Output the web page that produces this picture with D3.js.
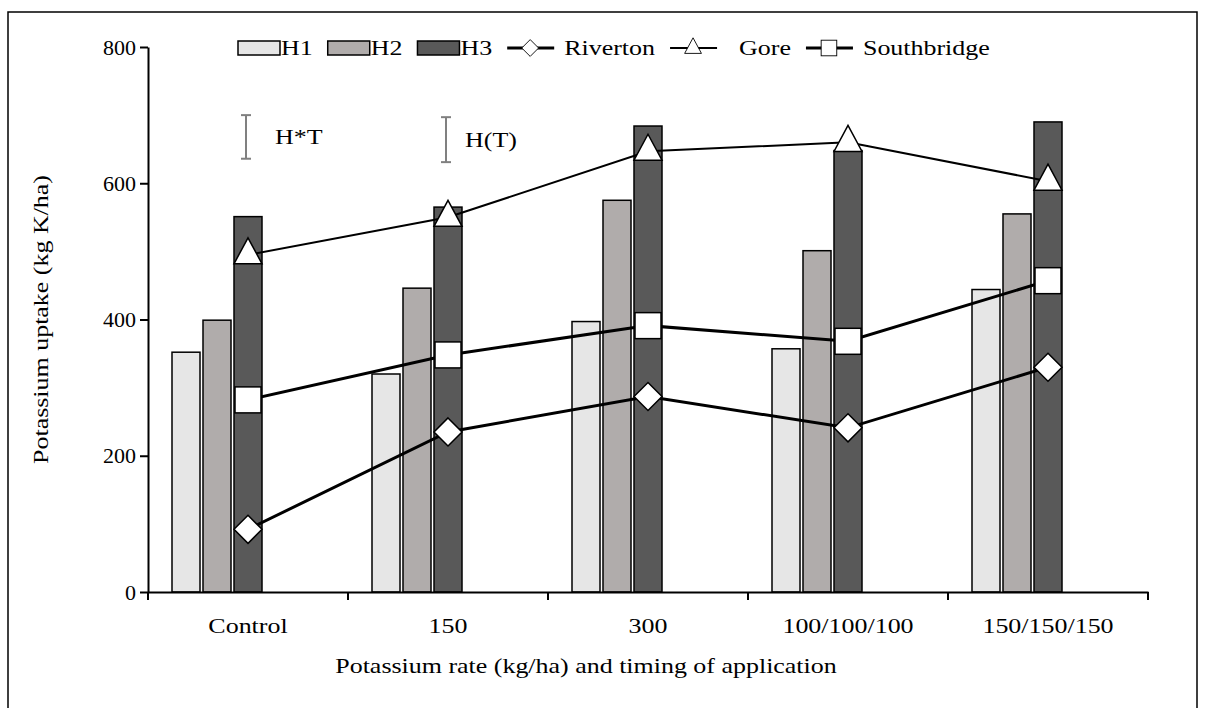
<!DOCTYPE html>
<html>
<head>
<meta charset="utf-8">
<script src="https://cdn.jsdelivr.net/npm/d3@7"></script>
<style>
  body { margin: 0; background: #fff; }
</style>
</head>
<body>
<div id="chart"></div>
<script>
// data
var categories = ["Control", "150", "300", "100/100/100", "150/150/150"];
var h1 = [352, 320, 397, 357, 444];
var h2 = [399, 446, 575, 501, 555];
var h3 = [551, 565, 684, 648, 690];
var riverton = [92, 235, 287, 241, 330];
var gore = [495, 550, 647, 660, 603];
var southbridge = [282, 348, 391, 368, 457];
var yTicks = [0, 200, 400, 600, 800];
// LSD bars: [category, low, high, label]
var lsd = [["Control", 636, 700, "H*T"], ["150", 631, 697, "H(T)"]];

var width = 1205, height = 708;
var margin = {top: 47, right: 57, bottom: 116, left: 148};
var w = width - margin.left - margin.right,
    h = height - margin.top - margin.bottom;
var fontSize = 22;
var sx = 1.18; // the original text is a bit wider than Liberation Serif
var serif = "'Liberation Serif'";

var svg = d3.select("#chart").append("svg")
    .attr("width", width)
    .attr("height", height);

// outer frame
svg.append("path")
    .attr("d", "M8,720V12H1197V720")
    .attr("fill", "none")
    .attr("stroke", "#000")
    .attr("stroke-width", 1.5);

var g = svg.append("g")
    .attr("transform", "translate(" + margin.left + "," + margin.top + ")");

var x = d3.scaleBand().domain(categories).range([0, w]);
var y = d3.scaleLinear().domain([0, 800]).range([h, 0]);

var barW = 28, barStep = 31;
var series = [
  {name: "H1", values: h1, color: "#e6e6e6", off: -2},
  {name: "H2", values: h2, color: "#b0acab", off: -1},
  {name: "H3", values: h3, color: "#595959", off: 0}
];

function cx(c) { return x(c) + x.bandwidth() / 2; }

series.forEach(function(s) {
  g.selectAll(".bar-" + s.name)
    .data(s.values).enter().append("rect")
      .attr("x", function(d, i) { return cx(categories[i]) + s.off * barStep - barW / 2; })
      .attr("width", barW)
      .attr("y", function(d) { return y(d); })
      .attr("height", function(d) { return h - y(d); })
      .attr("fill", s.color)
      .attr("stroke", "#000")
      .attr("stroke-width", 1.5);
});

// axes
var yAxis = g.append("g")
    .call(d3.axisLeft(y).tickValues(yTicks).tickSize(8).tickSizeOuter(0));
var xAxis = g.append("g")
    .attr("transform", "translate(0," + h + ")")
    .call(d3.axisBottom(x).tickSize(0).tickSizeOuter(0));

// x ticks at band edges
g.selectAll(".xedge")
  .data(categories.concat(["end"])).enter().append("line")
    .attr("x1", function(d, i) { return i * x.step(); })
    .attr("x2", function(d, i) { return i * x.step(); })
    .attr("y1", h)
    .attr("y2", h + 8)
    .attr("stroke", "#000")
    .attr("stroke-width", 2);

[yAxis, xAxis].forEach(function(a) {
  a.attr("font-family", null).attr("font-size", null);
  a.select(".domain").attr("stroke-width", 2);
  a.selectAll(".tick line").attr("stroke-width", 2);
  a.selectAll("text").attr("fill", "#000");
});
yAxis.selectAll("text").attr("x", -12).classed("plain", true);
xAxis.selectAll("text").attr("y", 0).attr("dy", 41);

// lines
var lines = [
  {name: "Riverton", values: riverton, sw: 3, shape: "diamond"},
  {name: "Gore", values: gore, sw: 2, shape: "triangle"},
  {name: "Southbridge", values: southbridge, sw: 3, shape: "square"}
];

var line = d3.line()
    .x(function(d, i) { return cx(categories[i]); })
    .y(function(d) { return y(d); });

function marker(sel, shape) {
  if (shape === "diamond") {
    sel.append("path").attr("d", "M0,-14L14,0L0,14L-14,0Z");
  } else if (shape === "triangle") {
    sel.append("path").attr("d", "M0,-17L14,9L-14,9Z");
  } else {
    sel.append("rect").attr("x", -13).attr("y", -13).attr("width", 26).attr("height", 26);
  }
  sel.selectAll("path,rect").attr("fill", "#fff").attr("stroke", "#000").attr("stroke-width", 1.5);
}

lines.forEach(function(l) {
  g.append("path")
    .datum(l.values)
    .attr("d", line)
    .attr("fill", "none")
    .attr("stroke", "#000")
    .attr("stroke-width", l.sw);
});
lines.forEach(function(l) {
  g.selectAll(".pt-" + l.name)
    .data(l.values).enter().append("g")
      .attr("transform", function(d, i) { return "translate(" + cx(categories[i]) + "," + y(d) + ")"; })
      .each(function() { marker(d3.select(this), l.shape); });
});

// LSD bars
lsd.forEach(function(e) {
  var ex = cx(e[0]) - 2;
  var eg = g.append("g").attr("stroke", "#808080").attr("stroke-width", 2);
  eg.append("line").attr("x1", ex).attr("x2", ex).attr("y1", y(e[1])).attr("y2", y(e[2]));
  eg.append("line").attr("x1", ex - 5).attr("x2", ex + 5).attr("y1", y(e[1])).attr("y2", y(e[1]));
  eg.append("line").attr("x1", ex - 5).attr("x2", ex + 5).attr("y1", y(e[2])).attr("y2", y(e[2]));
  g.append("text")
    .attr("x", ex + (e[3] === "H*T" ? 29 : 19))
    .attr("y", y((e[1] + e[2]) / 2) + 7)
    .text(e[3]);
});

// axis titles
svg.append("text")
    .attr("transform", "translate(48," + (margin.top + h / 2) + ") rotate(-90)")
    .attr("text-anchor", "middle")
    .text("Potassium uptake (kg K/ha)");
svg.append("text")
    .attr("x", 586)
    .attr("y", 673)
    .attr("text-anchor", "middle")
    .text("Potassium rate (kg/ha) and timing of application");

// legend
var legend = svg.append("g");
var lx = 238, ly = 48;
function legendText(px, name) {
  var t = legend.append("text").attr("x", px).attr("y", ly + 7)
    .style("font-family", serif).style("font-size", fontSize + "px").text(name);
  return t.node().getComputedTextLength() * sx;
}
series.forEach(function(s) {
  legend.append("rect")
    .attr("x", lx).attr("y", ly - 7).attr("width", 42).attr("height", 14)
    .attr("fill", s.color).attr("stroke", "#000").attr("stroke-width", 1.5);
  lx += 43;
  lx += legendText(lx, s.name) + 15;
});
lines.forEach(function(l) {
  legend.append("line")
    .attr("x1", lx).attr("x2", lx + 47).attr("y1", ly).attr("y2", ly)
    .attr("stroke", "#000").attr("stroke-width", l.sw);
  var m = legend.append("g").attr("transform", "translate(" + (lx + 23) + "," + ly + ") scale(0.6)");
  marker(m, l.shape);
  lx += 47 + (l.name === "Gore" ? 22 : 10);
  lx += legendText(lx, l.name) + 15;
});

// every text in the serif face; all but the y tick labels widened a little
svg.selectAll("text")
    .style("font-family", serif)
    .style("font-size", fontSize + "px");
svg.selectAll("text:not(.plain)")
    .each(function() {
      var t = d3.select(this);
      var tx = +t.attr("x") || 0, ty = +t.attr("y") || 0;
      var tr = t.attr("transform") || "";
      t.attr("x", 0).attr("y", 0)
        .attr("transform", tr + " translate(" + tx + "," + ty + ") scale(" + sx + ",1)");
    });
</script>
</body>
</html>
